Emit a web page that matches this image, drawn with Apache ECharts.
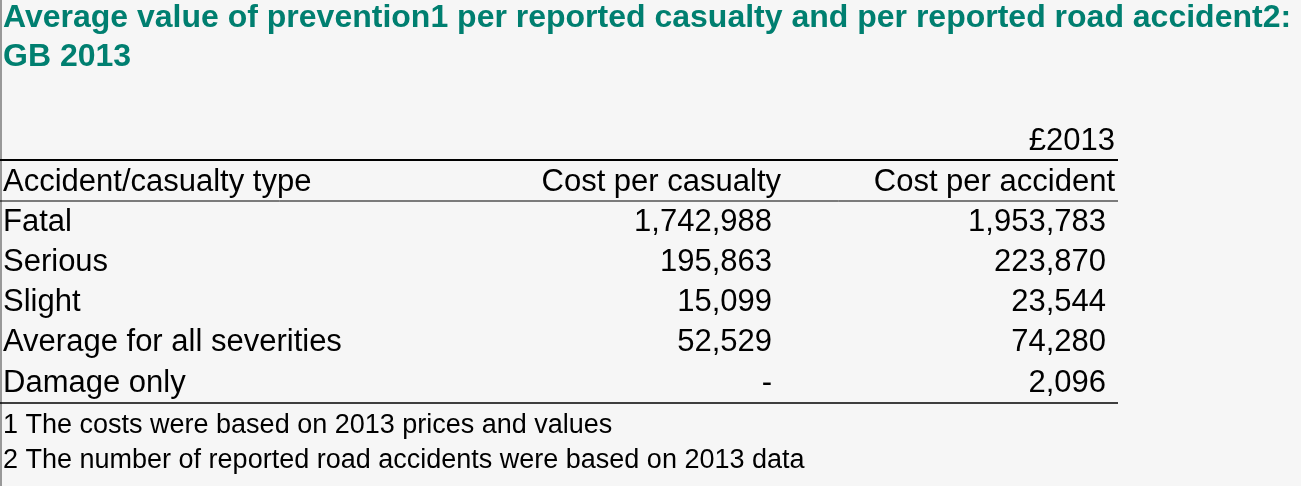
<!DOCTYPE html>
<html lang="en">
<head>
<meta charset="UTF-8">
<title>Average value of prevention</title>
<script src="https://cdn.jsdelivr.net/npm/echarts@6/dist/echarts.min.js"></script>
<style>html,body{margin:0;padding:0;background:#f6f6f6;}</style>
</head>
<body>
<div id="main" style="width:1301px;height:486px;"></div>
<script>
var titleLines = ['Average value of prevention1 per reported casualty and per reported road accident2:', 'GB 2013'];
var unitLabel = '£2013';
var headers = ['Accident/casualty type', 'Cost per casualty', 'Cost per accident'];
var categories = ['Fatal', 'Serious', 'Slight', 'Average for all severities', 'Damage only'];
var costPerCasualty = ['1,742,988', '195,863', '15,099', '52,529', '-'];
var costPerAccident = ['1,953,783', '223,870', '23,544', '74,280', '2,096'];
var footnotes = ['1 The costs were based on 2013 prices and values', '2 The number of reported road accidents were based on 2013 data'];

var myChart = echarts.init(document.getElementById('main'));
var font = '"Liberation Sans", Arial, sans-serif';
var els = [];

function text(str, x, y, opt) {
  opt = opt || {};
  els.push({
    type: 'text', x: x, y: y,
    style: {
      text: str, fill: opt.fill || '#000', font: (opt.weight || 'normal') + ' ' + (opt.size || 31) + 'px ' + font,
      textAlign: opt.align || 'left', textVerticalAlign: 'middle'
    }
  });
}
function rule(y, w) {
  els.push({ type: 'line', shape: { x1: 0, y1: y, x2: 1118, y2: y }, style: { stroke: '#000', lineWidth: w } });
}

// left edge border
els.push({ type: 'line', shape: { x1: 1, y1: 0, x2: 1, y2: 486 }, style: { stroke: '#999', lineWidth: 2 } });

titleLines.forEach(function (t, i) {
  text(t, 3, 18 + i * 39, { fill: '#007f70', weight: 'bold', size: 32 });
});
text(unitLabel, 1115, 141);
els[els.length - 1].style.textAlign = 'right';
rule(160, 2);
text(headers[0], 3, 182);
text(headers[1], 781, 182, { align: 'right' });
text(headers[2], 1115, 182, { align: 'right' });
rule(201, 1);
categories.forEach(function (c, i) {
  var y = 222 + i * 40.3;
  text(c, 3, y);
  text(costPerCasualty[i], 772, y, { align: 'right' });
  text(costPerAccident[i], 1106, y, { align: 'right' });
});
rule(403, 1.5);
footnotes.forEach(function (f, i) {
  text(f, 3, 426 + i * 35, { size: 27 });
});

myChart.setOption({ backgroundColor: '#f6f6f6', graphic: { elements: els } });
</script>
</body>
</html>
